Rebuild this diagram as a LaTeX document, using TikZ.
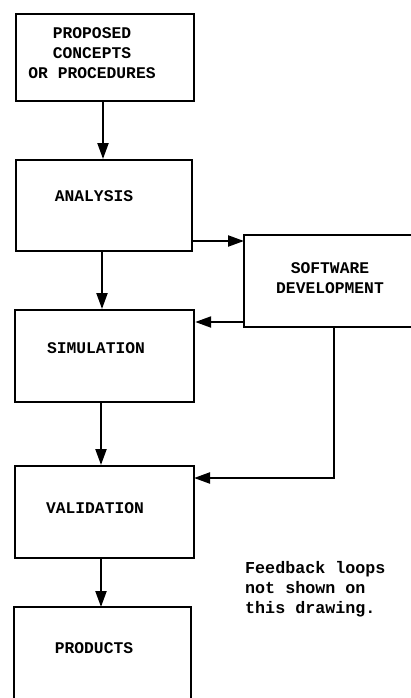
\documentclass[tikz,border=0pt]{standalone}
\usepackage{fontspec}
\setmonofont{Liberation Mono}
\usetikzlibrary{arrows.meta}
\begin{document}
\begin{tikzpicture}[x=1pt,y=-1pt,
  box/.style={draw, line width=2.2pt, inner sep=0pt, anchor=north west},
  lbl/.style={font=\ttfamily\bfseries\fontsize{16.3}{20}\selectfont, align=center, inner sep=0pt},
  note/.style={font=\ttfamily\bfseries\fontsize{16.7}{20}\selectfont, align=left, inner sep=0pt, anchor=north west},
  arr/.style={line width=2.2pt, -{Triangle[length=16pt,width=11pt]}},
  open/.style={line width=2.2pt},
]
\useasboundingbox (0,0) rectangle (411,698);

% boxes
\node[box, minimum width=178pt, minimum height=87pt] (prop) at (15,13) {};
\node[box, minimum width=176pt, minimum height=91pt] (ana) at (15,159) {};
\node[box, minimum width=179pt, minimum height=92pt] (sim) at (14,309) {};
\node[box, minimum width=179pt, minimum height=92pt] (val) at (14,465) {};

% open boxes (cut by the page edge)
\draw[open] (412,235) coordinate (swtr) -- (244,235) coordinate (swtl)
  -- (244,327) coordinate (swbl) -- (412,327) coordinate (swbr);
\draw[open] (14,699) coordinate (prbl) -- (14,607) coordinate (prtl)
  -- (191,607) coordinate (prtr) -- (191,699) coordinate (prbr);

% labels
\node[lbl] (tprop) at (92,53) {PROPOSED\\CONCEPTS\\OR PROCEDURES};
\node[lbl] (tana) at (94,196) {ANALYSIS};
\node[lbl] (tsim) at (96,348) {SIMULATION};
\node[lbl] (tval) at (95,508) {VALIDATION};
\node[lbl] (tprod) at (94,648) {PRODUCTS};
\node[lbl] (tsw) at (330,278) {SOFTWARE\\DEVELOPMENT};
\node[note] (tnote) at (245,561) {Feedback loops\\not shown on\\this drawing.};

% connector end points
\coordinate (swin) at (244,241);
\coordinate (swout) at (244,322);
\coordinate (swdown) at (334,327);
\coordinate (valin) at (194,478);
\coordinate (prodin) at (101,607);

% connectors
\draw[arr] (prop.south -| 103,0) -- (ana.north -| 103,0);
\draw[arr] (ana.south -| 102,0) -- (sim.north -| 102,0);
\draw[arr] (sim.south -| 101,0) -- (val.north -| 101,0);
\draw[arr] (val.south -| prodin) -- (prodin);
\draw[arr] (ana.east |- swin) -- (swin);
\draw[arr] (swout) -- (sim.east |- swout);
\draw[arr] (swdown) |- (valin);
\end{tikzpicture}
\end{document}
